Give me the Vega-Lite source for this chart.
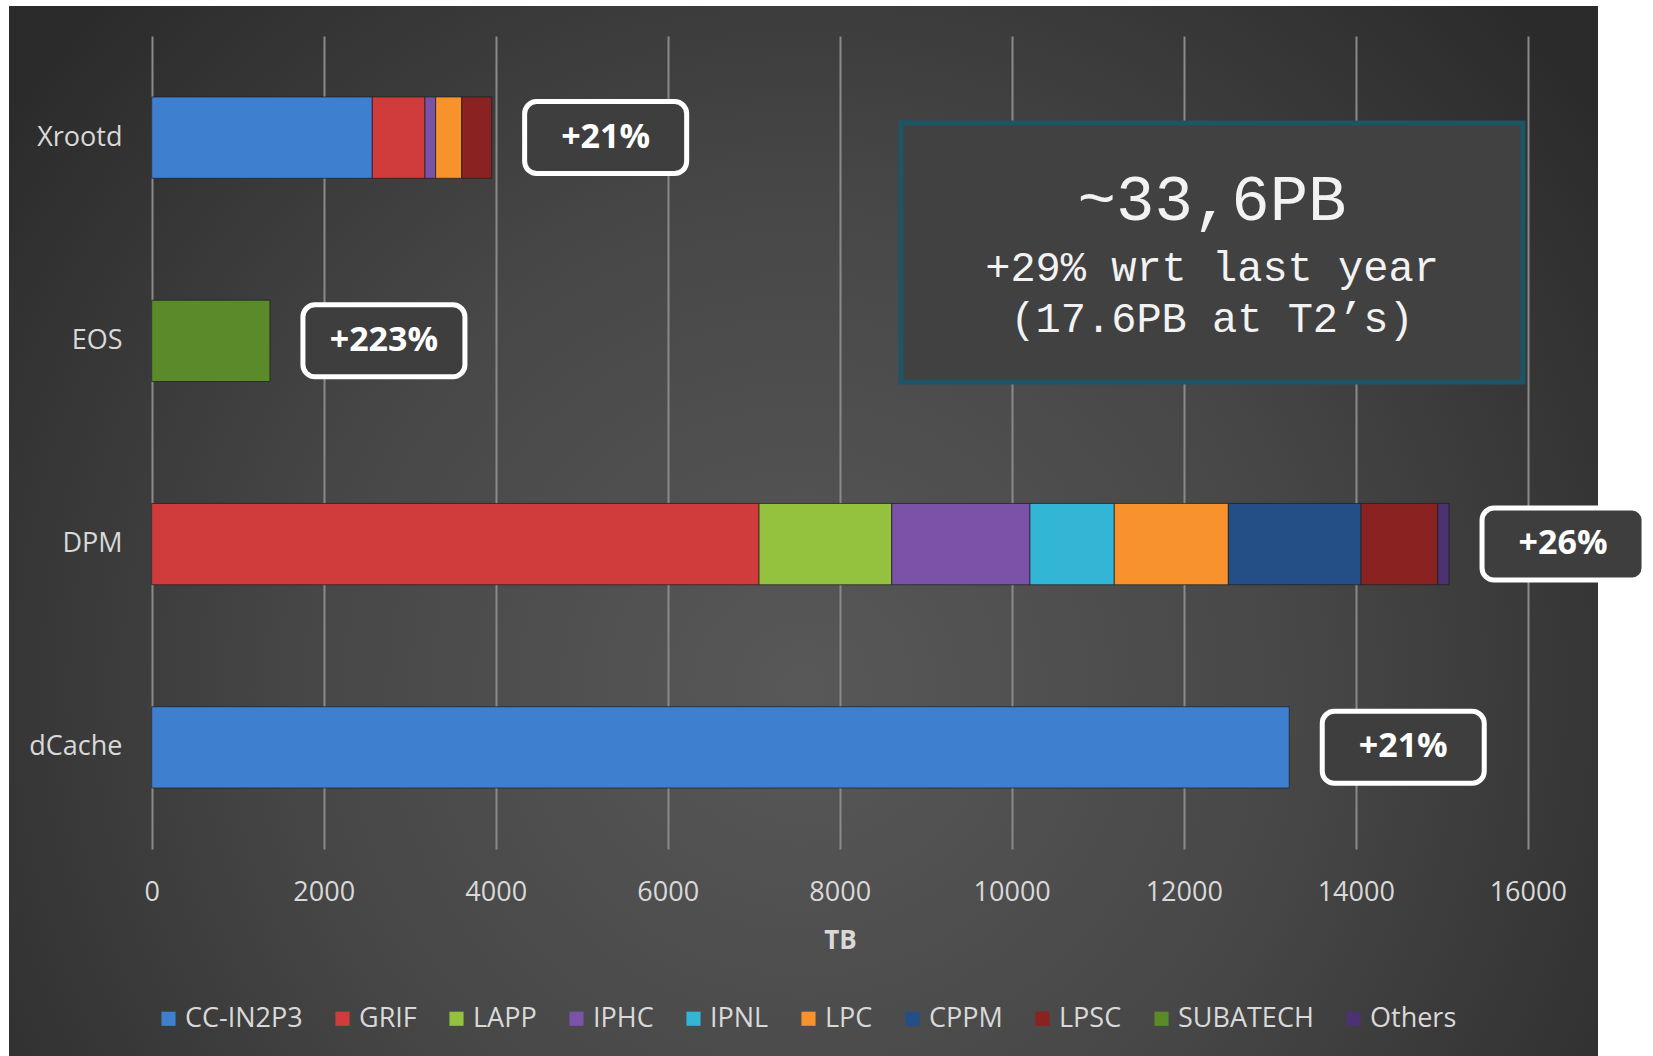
{
  "$schema": "https://vega.github.io/schema/vega-lite/v6.json",
  "autosize": {"type": "none"},
  "width": 1589,
  "height": 1050,
  "padding": {"left": 9, "top": 6, "right": 55, "bottom": 0},
  "background": "#ffffff",
  "config": {
    "view": {
      "stroke": null,
      "fill": {
        "gradient": "radial",
        "x1": 0.5, "y1": 0.6, "r1": 0,
        "x2": 0.5, "y2": 0.6, "r2": 0.62,
        "stops": [
          {"offset": 0, "color": "#585858"},
          {"offset": 0.5, "color": "#474747"},
          {"offset": 1, "color": "#2b2b2b"}
        ]
      }
    },
    "font": "Open Sans"
  },
  "datasets": {
    "storage": [
      {"storage": "Xrootd", "site": "CC-IN2P3", "TB": 2565},
      {"storage": "Xrootd", "site": "GRIF", "TB": 613},
      {"storage": "Xrootd", "site": "IPHC", "TB": 124},
      {"storage": "Xrootd", "site": "LPC", "TB": 303},
      {"storage": "Xrootd", "site": "LPSC", "TB": 348},
      {"storage": "EOS", "site": "SUBATECH", "TB": 1375},
      {"storage": "DPM", "site": "GRIF", "TB": 7062},
      {"storage": "DPM", "site": "LAPP", "TB": 1543},
      {"storage": "DPM", "site": "IPHC", "TB": 1607},
      {"storage": "DPM", "site": "IPNL", "TB": 981},
      {"storage": "DPM", "site": "LPC", "TB": 1326},
      {"storage": "DPM", "site": "CPPM", "TB": 1543},
      {"storage": "DPM", "site": "LPSC", "TB": 891},
      {"storage": "DPM", "site": "Others", "TB": 132},
      {"storage": "dCache", "site": "CC-IN2P3", "TB": 13227}
    ],
    "growth": [
      {"storage": "Xrootd", "growth": "+21%"},
      {"storage": "EOS", "growth": "+223%"},
      {"storage": "DPM", "growth": "+26%"},
      {"storage": "dCache", "growth": "+21%"}
    ],
    "summary": [
      {"headline": "~33,6PB", "delta": "+29% wrt last year", "t2": "(17.6PB at T2’s)"}
    ]
  },
  "layer": [
    {
      "data": {"name": "storage"},
      "transform": [
        {"calculate": "indexof(['CC-IN2P3','GRIF','LAPP','IPHC','IPNL','LPC','CPPM','LPSC','SUBATECH','Others'], datum.site)", "as": "siteRank"}
      ],
      "mark": {"type": "bar", "stroke": "#1c1c1c", "strokeWidth": 1, "strokeOpacity": 0.7},
      "encoding": {
        "y": {
          "field": "storage", "type": "nominal",
          "sort": ["Xrootd", "EOS", "DPM", "dCache"],
          "scale": {"domain": ["Xrootd", "EOS", "DPM", "dCache"], "paddingInner": 0.6, "paddingOuter": 0.883, "align": 0.2534},
          "axis": {
            "title": null, "ticks": false, "domain": false, "grid": false,
            "offset": -143, "labelPadding": 30,
            "labelFontSize": 27, "labelColor": "#d9d9d9", "labelFont": "Open Sans"
          }
        },
        "x": {
          "aggregate": "sum", "field": "TB", "type": "quantitative", "stack": "zero",
          "scale": {"domain": [-1659, 16817], "nice": false, "zero": false},
          "axis": {
            "values": [0, 2000, 4000, 6000, 8000, 10000, 12000, 14000, 16000],
            "format": "d", "grid": false, "domain": false,
            "ticks": true, "tickSize": -813, "tickColor": "#8a8a8a", "tickWidth": 2,
            "offset": -207, "labelPadding": 843, "labelFlush": false,
            "labelFontSize": 27, "labelColor": "#d9d9d9", "labelFont": "Open Sans",
            "title": "TB", "titleFontSize": 26, "titleFontWeight": "bold", "titleColor": "#d9d9d9",
            "titlePadding": 22, "titleX": 831, "zindex": 0
          }
        },
        "color": {
          "field": "site", "type": "nominal",
          "sort": ["CC-IN2P3", "GRIF", "LAPP", "IPHC", "IPNL", "LPC", "CPPM", "LPSC", "SUBATECH", "Others"],
          "scale": {
            "domain": ["CC-IN2P3", "GRIF", "LAPP", "IPHC", "IPNL", "LPC", "CPPM", "LPSC", "SUBATECH", "Others"],
            "range": ["#3f7fcf", "#d03c3c", "#94c13e", "#7a52a8", "#33b5d5", "#f7922c", "#234f86", "#8a2222", "#5b8a2a", "#4a3370"]
          },
          "legend": {
            "title": null, "orient": "none", "direction": "horizontal",
            "legendX": 146, "legendY": 999, "padding": 0,
            "symbolType": "square", "symbolSize": 200, "symbolStrokeWidth": 0,
            "labelFontSize": 27, "labelColor": "#d9d9d9", "labelFont": "Open Sans",
            "labelOffset": 3, "columnPadding": 26
          }
        },
        "order": {"field": "siteRank", "aggregate": "min", "sort": "ascending"}
      }
    },
    {
      "data": {"name": "storage"},
      "transform": [
        {"aggregate": [{"op": "sum", "field": "TB", "as": "total"}], "groupby": ["storage"]},
        {"lookup": "storage", "from": {"data": {"name": "growth"}, "key": "storage", "fields": ["growth"]}}
      ],
      "layer": [
        {
          "mark": {"type": "rect", "width": 162, "height": 72, "xOffset": 114, "cornerRadius": 12, "fill": "#3e3e3e", "stroke": "#ffffff", "strokeWidth": 5},
          "encoding": {
            "x": {"field": "total", "type": "quantitative", "scale": {"domain": [-1659, 16817], "nice": false, "zero": false}},
            "y": {"field": "storage", "type": "nominal", "sort": ["Xrootd", "EOS", "DPM", "dCache"]}
          }
        },
        {
          "mark": {"type": "text", "xOffset": 114, "fontSize": 34, "fontWeight": "bold", "color": "#ffffff", "font": "Open Sans", "align": "center", "baseline": "middle"},
          "encoding": {
            "x": {"field": "total", "type": "quantitative", "scale": {"domain": [-1659, 16817], "nice": false, "zero": false}},
            "y": {"field": "storage", "type": "nominal", "sort": ["Xrootd", "EOS", "DPM", "dCache"]},
            "text": {"field": "growth"}
          }
        }
      ]
    },
    {
      "data": {"name": "summary"},
      "layer": [
        {
          "mark": {"type": "rect", "height": 259, "yOffset": 115, "fill": "#414141", "stroke": "#1e5566", "strokeWidth": 5},
          "encoding": {
            "x": {"datum": 8713, "type": "quantitative", "scale": {"domain": [-1659, 16817], "nice": false, "zero": false}},
            "x2": {"datum": 15945},
            "y": {"datum": "Xrootd", "type": "nominal"}
          }
        },
        {
          "mark": {"type": "text", "yOffset": 63, "fontSize": 64, "font": "Liberation Mono", "color": "#f2f2f2", "align": "center", "baseline": "middle"},
          "encoding": {
            "x": {"datum": 12329, "type": "quantitative", "scale": {"domain": [-1659, 16817], "nice": false, "zero": false}},
            "y": {"datum": "Xrootd", "type": "nominal"},
            "text": {"field": "headline"}
          }
        },
        {
          "mark": {"type": "text", "yOffset": 130, "fontSize": 42, "font": "Liberation Mono", "color": "#f2f2f2", "align": "center", "baseline": "middle"},
          "encoding": {
            "x": {"datum": 12329, "type": "quantitative", "scale": {"domain": [-1659, 16817], "nice": false, "zero": false}},
            "y": {"datum": "Xrootd", "type": "nominal"},
            "text": {"field": "delta"}
          }
        },
        {
          "mark": {"type": "text", "yOffset": 181, "fontSize": 42, "font": "Liberation Mono", "color": "#f2f2f2", "align": "center", "baseline": "middle"},
          "encoding": {
            "x": {"datum": 12329, "type": "quantitative", "scale": {"domain": [-1659, 16817], "nice": false, "zero": false}},
            "y": {"datum": "Xrootd", "type": "nominal"},
            "text": {"field": "t2"}
          }
        }
      ]
    }
  ]
}
